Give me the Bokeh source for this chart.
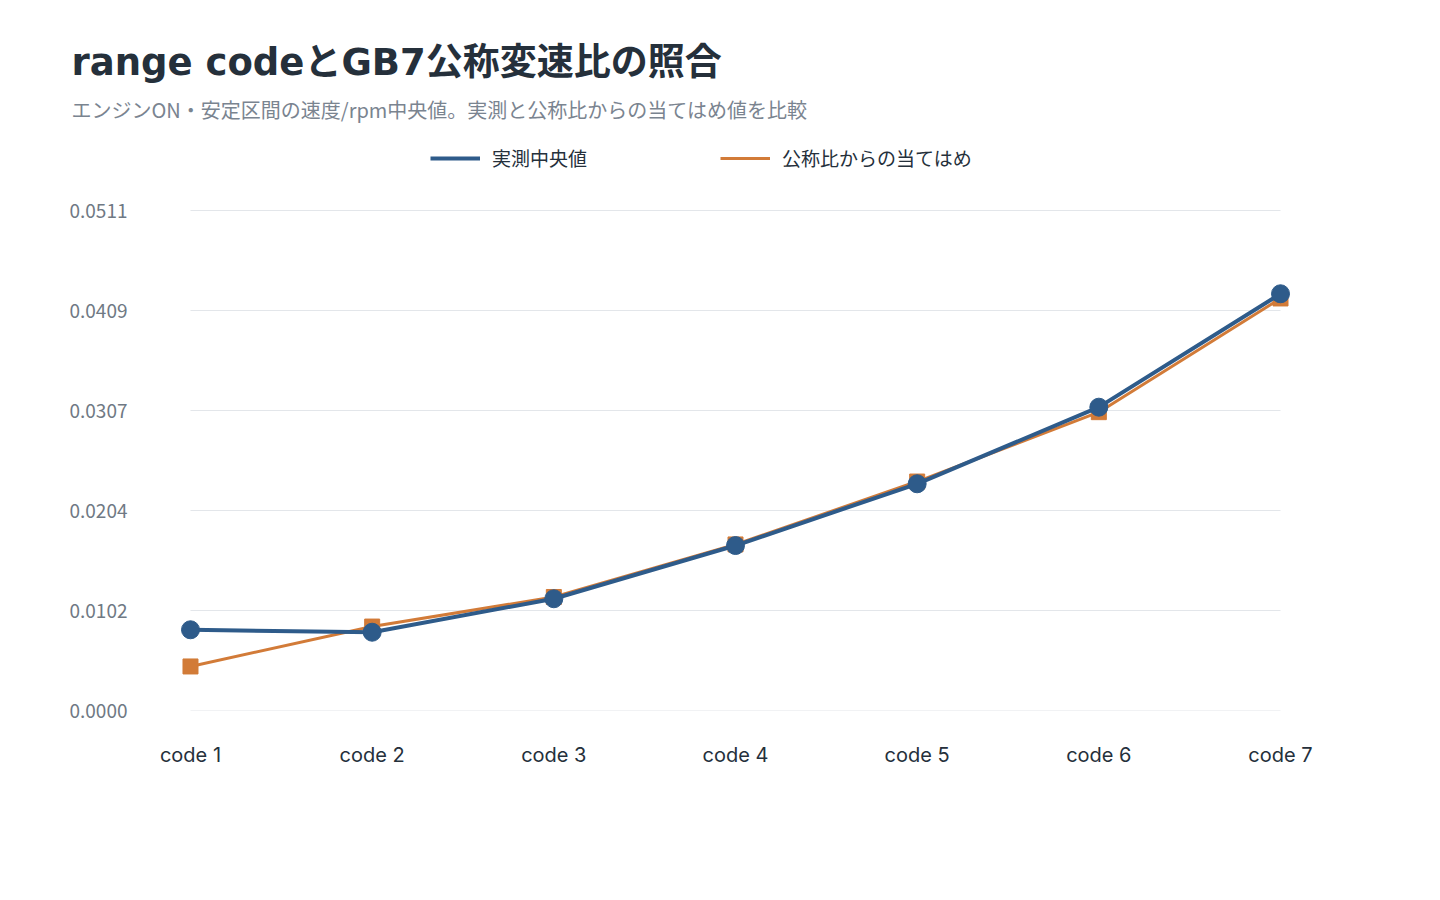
from bokeh.plotting import figure
from bokeh.models import (Legend, LegendItem, Title, FixedTicker, PrintfTickFormatter, ColumnDataSource, Range1d)
from bokeh.embed import file_html
from bokeh.resources import INLINE

categories = ["code 1", "code 2", "code 3", "code 4", "code 5", "code 6", "code 7"]
measured = [0.00825, 0.00800, 0.01142, 0.01686, 0.02317, 0.03100, 0.04259]
fitted = [0.00450, 0.00858, 0.01160, 0.01697, 0.02340, 0.03049, 0.04211]
y_ticks = [0.0, 0.01022, 0.02044, 0.03066, 0.04088, 0.0511]
series_names = ["実測中央値", "公称比からの当てはめ"]
title_text = "range codeとGB7公称変速比の照合"
subtitle_text = "エンジンON・安定区間の速度/rpm中央値。実測と公称比からの当てはめ値を比較"

BLUE = "#2e5b8a"
ORANGE = "#d27b38"
JP = "Noto Sans CJK JP"
MIX = "'DejaVu Sans', 'Noto Sans CJK JP'"

xs = list(range(len(categories)))
src = ColumnDataSource(dict(x=xs, measured=measured, fitted=fitted))

# headroom above the top tick leaves space for the legend inside the frame
p = figure(width=1424, height=884, output_backend="svg", toolbar_location=None,
           x_range=Range1d(-0.055, len(categories) - 1 + 0.055),
           y_range=Range1d(y_ticks[0], y_ticks[-1] * 1.16),
           min_border_left=180, min_border_right=134, min_border_top=130, min_border_bottom=174)
p.outline_line_color = None
p.background_fill_color = "white"
p.border_fill_color = "white"
p.xgrid.visible = False
p.ygrid.visible = False

# grid lines drawn across the category span
p.segment(x0=[xs[0]] * len(y_ticks), x1=[xs[-1]] * len(y_ticks), y0=y_ticks, y1=y_ticks,
          line_color="#e3e6ea", line_width=1)

l2 = p.line("x", "fitted", source=src, line_color=ORANGE, line_width=3)
p.scatter("x", "fitted", source=src, marker="square", size=15, fill_color=ORANGE, line_color=ORANGE)
l1 = p.line("x", "measured", source=src, line_color=BLUE, line_width=4)
p.scatter("x", "measured", source=src, marker="circle", size=18, fill_color=BLUE, line_color=BLUE)

p.xaxis.ticker = FixedTicker(ticks=xs)
p.xaxis.major_label_overrides = {i: c for i, c in enumerate(categories)}
p.xaxis.major_label_text_font = "Inter"
p.xaxis.major_label_text_font_size = "20px"
p.xaxis.major_label_text_color = "#25303b"
p.xaxis.major_tick_out = 0
p.xaxis.major_tick_in = 0
p.xaxis.major_label_standoff = 32
p.xaxis.axis_line_color = None
p.xaxis.major_tick_line_color = None
p.xaxis.minor_tick_line_color = None

p.yaxis.ticker = FixedTicker(ticks=y_ticks)
p.yaxis.formatter = PrintfTickFormatter(format="%.4f")
p.yaxis.major_label_text_font = JP
p.yaxis.major_label_text_font_size = "19px"
p.yaxis.major_label_text_color = "#6f7984"
p.yaxis.major_tick_out = 0
p.yaxis.major_tick_in = 0
p.yaxis.major_label_standoff = 53
p.yaxis.axis_line_color = None
p.yaxis.major_tick_line_color = None
p.yaxis.minor_tick_line_color = None

legend = Legend(items=[LegendItem(label=series_names[0], renderers=[l1]),
                       LegendItem(label=series_names[1], renderers=[l2])],
                orientation="horizontal", location=(250, 539),
                glyph_width=50, glyph_height=20, label_standoff=12, spacing=133,
                label_text_font=JP, label_text_font_size="19px", label_text_color="#25303b",
                border_line_color=None, background_fill_alpha=0, padding=10, margin=0)
p.add_layout(legend, "center")

sub = Title(text=subtitle_text, align="left", offset=-109, standoff=14,
            text_font=JP, text_font_size="20px", text_font_style="normal", text_color="#7a8490")
p.add_layout(sub, "above")
main = Title(text=title_text, align="left", offset=-109, standoff=4,
             text_font=MIX, text_font_size="37px", text_font_style="bold", text_color="#25303b")
p.add_layout(main, "above")

open("out.html", "w").write(file_html(p, INLINE))
